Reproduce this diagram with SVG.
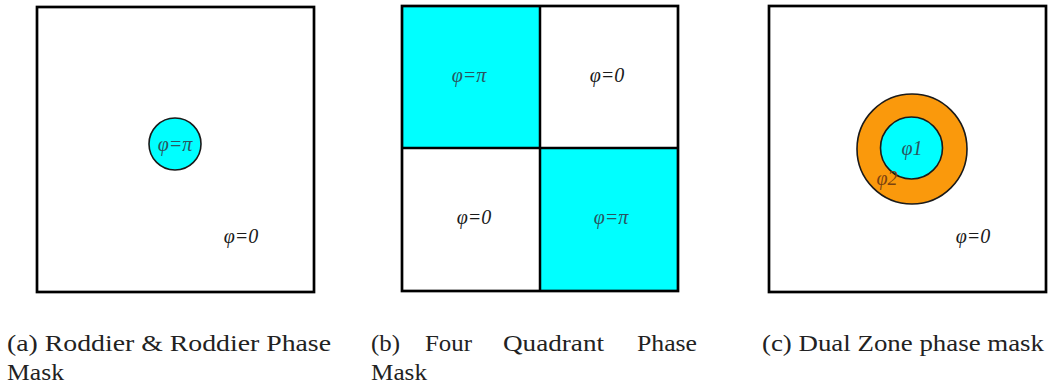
<svg xmlns="http://www.w3.org/2000/svg" width="1050" height="388" viewBox="0 0 1050 388">
<style>
.frame{fill:none;stroke:#000;stroke-width:2.7}
.div{stroke:#000;stroke-width:2.5}
.cyan{fill:#00ffff}
.orange{fill:#fa990c}
.ring{stroke:#1a1a1a;stroke-width:1.6}
.lbl{font-style:italic;font-size:20px;text-anchor:middle}
.dark{fill:#1a1a1a}
.teal{fill:#2a5560}
.brown{fill:#7a4210}
.cap{font-size:24px;fill:#222}
</style>
<rect width="1050" height="388" fill="#fff"/>
<g font-family="Liberation Serif">
<g id="panel-a">
  <rect class="frame" x="37" y="7" width="277" height="285"/>
  <circle class="cyan ring" cx="175" cy="144" r="26"/>
  <text class="lbl teal" x="175" y="151">φ=π</text>
  <text class="lbl dark" x="241" y="243">φ=0</text>
</g>
<g id="panel-b">
  <rect class="cyan" x="402" y="6" width="138" height="142"/>
  <rect class="cyan" x="540" y="148" width="138" height="143"/>
  <line class="div" x1="540" y1="6" x2="540" y2="291"/>
  <line class="div" x1="402" y1="148" x2="678" y2="148"/>
  <rect class="frame" x="402" y="6" width="276" height="285"/>
  <text class="lbl teal" x="469" y="82">φ=π</text>
  <text class="lbl dark" x="607" y="82">φ=0</text>
  <text class="lbl dark" x="474" y="224">φ=0</text>
  <text class="lbl teal" x="611" y="224">φ=π</text>
</g>
<g id="panel-c">
  <rect class="frame" x="769" y="6" width="277" height="286"/>
  <circle class="orange ring" cx="912" cy="149" r="55"/>
  <circle class="cyan ring" cx="911.5" cy="148" r="31"/>
  <text class="lbl teal" x="912" y="155">φ1</text>
  <text class="lbl brown" x="887" y="185">φ2</text>
  <text class="lbl dark" x="973" y="243">φ=0</text>
</g>
<g id="captions">
  <text class="cap" x="7" y="351" textLength="324" lengthAdjust="spacingAndGlyphs">(a) Roddier &amp; Roddier Phase</text>
  <text class="cap" x="7" y="380" textLength="57" lengthAdjust="spacingAndGlyphs">Mask</text>
  <text class="cap" x="371" y="351" textLength="29" lengthAdjust="spacingAndGlyphs">(b)</text>
  <text class="cap" x="425" y="351" textLength="47" lengthAdjust="spacingAndGlyphs">Four</text>
  <text class="cap" x="503" y="351" textLength="101" lengthAdjust="spacingAndGlyphs">Quadrant</text>
  <text class="cap" x="637" y="351" textLength="60" lengthAdjust="spacingAndGlyphs">Phase</text>
  <text class="cap" x="371" y="380" textLength="56" lengthAdjust="spacingAndGlyphs">Mask</text>
  <text class="cap" x="762" y="351" textLength="282" lengthAdjust="spacingAndGlyphs">(c) Dual Zone phase mask</text>
</g>
</g>
</svg>
